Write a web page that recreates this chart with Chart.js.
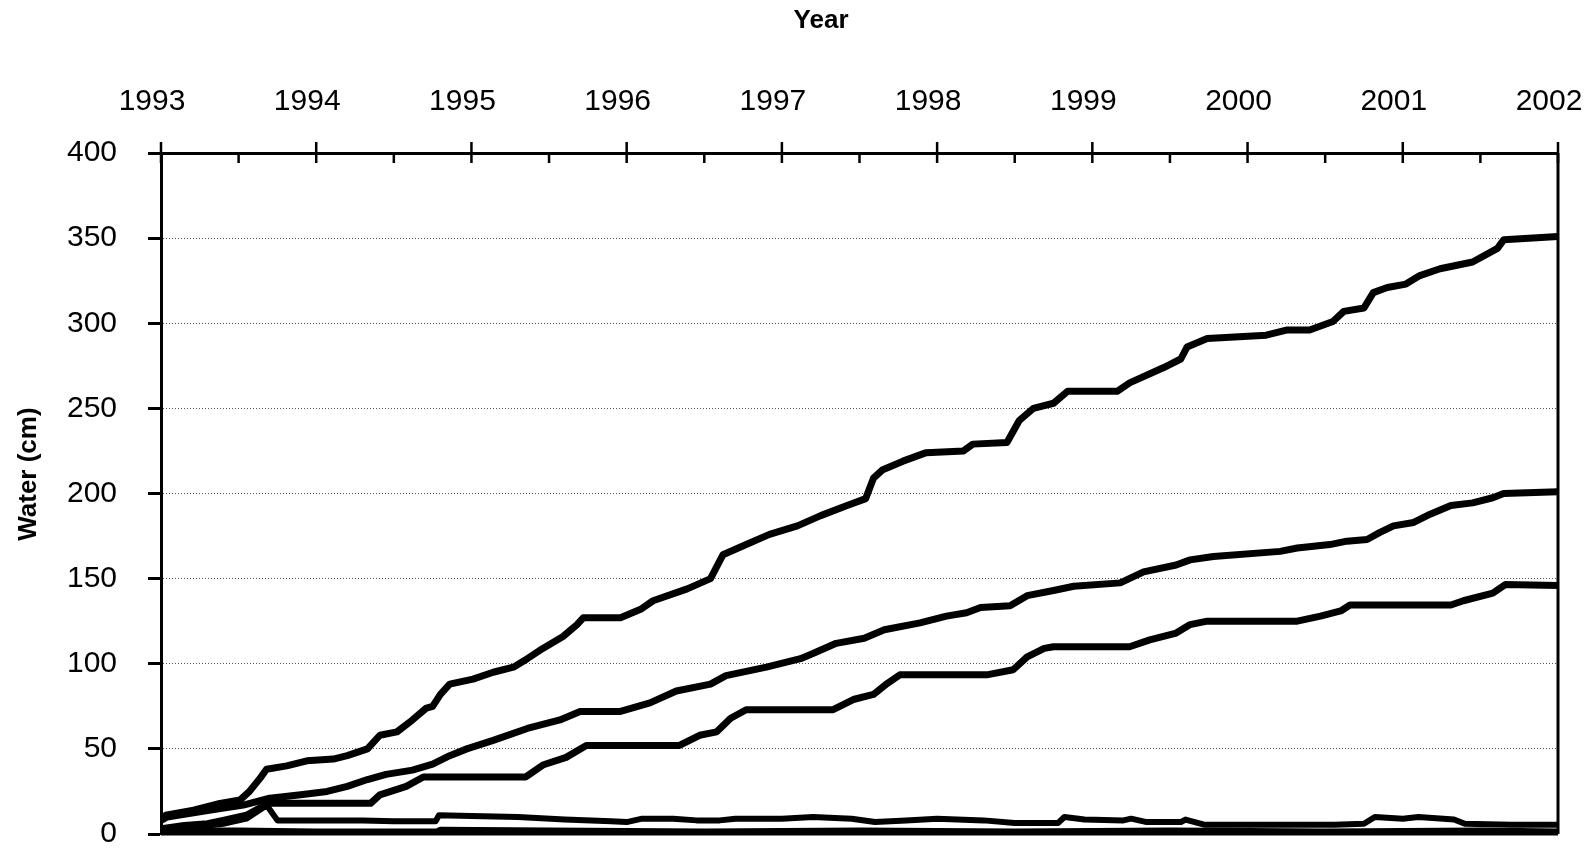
<!DOCTYPE html>
<html>
<head>
<meta charset="utf-8">
<script src="https://cdn.jsdelivr.net/npm/chart.js@4/dist/chart.umd.min.js"></script>
<style>
  html, body { margin: 0; padding: 0; background: #fff; }
  #wrap { width: 1587px; height: 851px; }
</style>
</head>
<body>
<div id="wrap"><canvas id="chart" width="1587" height="851"></canvas></div>
<script>
// Cumulative water (cm) over time, each point is [year, cm]
const cumulativeTop = [
  [1993.0, 8], [1993.03, 11], [1993.21, 14], [1993.38, 18], [1993.51, 20], [1993.57, 25],
  [1993.64, 33], [1993.68, 38], [1993.81, 40], [1993.94, 43], [1994.11, 44], [1994.20, 46],
  [1994.33, 50], [1994.41, 58], [1994.52, 60], [1994.62, 67], [1994.71, 74], [1994.75, 75],
  [1994.80, 82], [1994.86, 88], [1995.01, 91], [1995.14, 95], [1995.27, 98], [1995.36, 103],
  [1995.46, 109], [1995.59, 116], [1995.68, 123], [1995.72, 127], [1995.96, 127], [1996.09, 132],
  [1996.17, 137], [1996.39, 144], [1996.54, 150], [1996.62, 164], [1996.77, 170], [1996.92, 176],
  [1997.10, 181], [1997.25, 187], [1997.42, 193], [1997.54, 197], [1997.59, 209], [1997.65, 214],
  [1997.78, 219], [1997.93, 224], [1998.17, 225], [1998.23, 229], [1998.45, 230], [1998.53, 243],
  [1998.62, 250], [1998.75, 253], [1998.84, 260], [1999.16, 260], [1999.24, 265], [1999.46, 274],
  [1999.57, 279], [1999.61, 286], [1999.74, 291], [2000.12, 293], [2000.25, 296], [2000.40, 296],
  [2000.55, 301], [2000.62, 307], [2000.75, 309], [2000.81, 318], [2000.90, 321], [2001.02, 323],
  [2001.11, 328], [2001.24, 332], [2001.45, 336], [2001.61, 344], [2001.65, 349], [2002.0, 351]
];
const cumulativeMiddle = [
  [1993.0, 8], [1993.04, 10], [1993.32, 14], [1993.53, 17], [1993.70, 21], [1993.90, 23],
  [1994.07, 25], [1994.20, 28], [1994.33, 32], [1994.45, 35], [1994.62, 37.5], [1994.75, 41],
  [1994.86, 46], [1994.97, 50], [1995.14, 55], [1995.36, 62], [1995.57, 67], [1995.70, 72],
  [1995.96, 72], [1996.15, 77], [1996.32, 84], [1996.54, 88], [1996.64, 93], [1996.90, 98],
  [1997.12, 103], [1997.20, 106], [1997.35, 112], [1997.53, 115], [1997.66, 120], [1997.89, 124],
  [1998.06, 128], [1998.19, 130], [1998.28, 133], [1998.47, 134], [1998.58, 140], [1998.75, 143],
  [1998.88, 145.5], [1999.18, 147.5], [1999.33, 154], [1999.54, 158], [1999.63, 161], [1999.78, 163],
  [2000.21, 166], [2000.32, 168], [2000.53, 170], [2000.64, 172], [2000.77, 173], [2000.85, 177],
  [2000.94, 181], [2001.07, 183], [2001.18, 188], [2001.31, 193], [2001.45, 194.5], [2001.58, 197.5],
  [2001.65, 200], [2002.0, 201]
];
const cumulativeLower = [
  [1993.0, 3], [1993.15, 5], [1993.3, 6], [1993.4, 8], [1993.55, 11], [1993.65, 16], [1993.70, 18],
  [1994.35, 18], [1994.41, 23], [1994.58, 28], [1994.69, 33.5], [1995.35, 33.5], [1995.46, 40.5],
  [1995.61, 45], [1995.74, 52], [1996.34, 52], [1996.47, 58], [1996.58, 60], [1996.67, 68],
  [1996.77, 73], [1997.33, 73], [1997.46, 79], [1997.59, 82], [1997.68, 88.5], [1997.76, 93.5],
  [1998.32, 93.5], [1998.49, 96.5], [1998.58, 104], [1998.69, 109], [1998.75, 110], [1999.24, 110],
  [1999.37, 114], [1999.54, 118], [1999.63, 123], [1999.74, 125], [2000.32, 125], [2000.47, 128],
  [2000.60, 131], [2000.66, 134.5], [2001.31, 134.5], [2001.39, 137], [2001.58, 141.5],
  [2001.66, 146.5], [2002.0, 146]
];
// Stored water levels that stay near zero
const storedUpper = [
  [1993.0, 2], [1993.2, 4], [1993.4, 6], [1993.55, 9], [1993.65, 15], [1993.68, 17], [1993.75, 8],
  [1994.0, 8], [1994.3, 8], [1994.5, 7.5], [1994.77, 7.5], [1994.79, 11], [1995.0, 10.5],
  [1995.3, 10], [1995.6, 8.5], [1995.9, 7.5], [1996.0, 7], [1996.1, 9], [1996.3, 9], [1996.45, 8],
  [1996.6, 8], [1996.7, 9], [1997.0, 9], [1997.2, 10], [1997.45, 9], [1997.6, 7], [1997.8, 8],
  [1998.0, 9], [1998.3, 8], [1998.5, 6.5], [1998.78, 6.5], [1998.82, 10], [1998.95, 8.5],
  [1999.2, 8], [1999.25, 9], [1999.35, 7], [1999.57, 7], [1999.6, 8.5], [1999.72, 5.5],
  [2000.0, 5.5], [2000.3, 5.5], [2000.56, 5.5], [2000.75, 6], [2000.82, 10], [2001.0, 9],
  [2001.1, 10], [2001.33, 8.5], [2001.4, 6], [2001.7, 5.5], [2002.0, 5.5]
];
const storedLower = [
  [1993.0, 0], [1993.1, 2], [1993.5, 2], [1994.0, 1.5], [1994.78, 1.5], [1994.8, 2.5],
  [1995.5, 2], [1996.5, 1.5], [1997.5, 2], [1998.5, 1.5], [1999.5, 2], [2000.5, 1.5],
  [2001.5, 2], [2002.0, 1.5]
];
const storedBase = [[1993.0, 0], [2002.0, 0]];

// Axis ranges and labels
const yearMin = 1993, yearMax = 2002;
const waterMin = 0, waterMax = 400, waterStep = 50;
const xTitle = 'Year';
const yTitle = 'Water (cm)';

const FONT = "'Liberation Sans', Arial, Helvetica, sans-serif";
Chart.defaults.font.family = FONT;
Chart.defaults.color = '#000';

function toPoints(arr) { return arr.map(p => ({ x: p[0], y: p[1] })); }
function lineSet(arr, width) {
  return {
    data: toPoints(arr), borderColor: '#000', backgroundColor: '#000',
    borderWidth: width, pointRadius: 0, tension: 0, fill: false,
    borderJoinStyle: 'round', borderCapStyle: 'butt'
  };
}

// Frame, year tick marks and axis titles
const framePlugin = {
  id: 'frame',
  afterDraw(chart) {
    const { ctx, chartArea: a, scales: { x } } = chart;
    ctx.save();
    ctx.strokeStyle = '#000';
    ctx.lineWidth = 3;
    ctx.beginPath();
    ctx.moveTo(a.right, a.top); ctx.lineTo(a.right, a.bottom);
    ctx.moveTo(a.left, a.bottom); ctx.lineTo(a.right, a.bottom);
    ctx.stroke();
    ctx.lineWidth = 2.5;
    ctx.beginPath();
    for (let yr = yearMin; yr <= yearMax; yr++) {
      const px = x.getPixelForValue(yr);
      ctx.moveTo(px, a.top - 11); ctx.lineTo(px, a.top + 10);
      if (yr < yearMax) {
        const hx = x.getPixelForValue(yr + 0.5);
        ctx.moveTo(hx, a.top); ctx.lineTo(hx, a.top + 10);
      }
    }
    ctx.stroke();

    ctx.fillStyle = '#000';
    ctx.textAlign = 'center';
    ctx.textBaseline = 'middle';
    ctx.font = 'bold 26px ' + FONT;
    ctx.fillText(xTitle, a.left + (a.right - a.left) * 0.4725, 21);
    ctx.translate(29, a.top + (a.bottom - a.top) * 0.4715);
    ctx.rotate(-Math.PI / 2);
    ctx.font = 'bold 26px ' + FONT;
    ctx.fillText(yTitle, 0, 0);
    ctx.restore();
  }
};

new Chart(document.getElementById('chart'), {
  type: 'line',
  data: {
    datasets: [
      lineSet(storedBase, 6),
      lineSet(storedLower, 6),
      lineSet(storedUpper, 6),
      lineSet(cumulativeLower, 7),
      lineSet(cumulativeMiddle, 7),
      lineSet(cumulativeTop, 7)
    ]
  },
  options: {
    responsive: false,
    animation: false,
    events: [],
    layout: { padding: { left: 0, right: 29, top: 0, bottom: 17 } },
    plugins: { legend: { display: false }, tooltip: { enabled: false }, title: { display: false } },
    scales: {
      x: {
        type: 'linear', position: 'top', min: yearMin, max: yearMax,
        grid: { display: false },
        border: { display: true, color: '#000', width: 3 },
        ticks: {
          stepSize: 1, padding: 25, labelOffset: -9,
          font: { size: 30 }, color: '#000',
          maxRotation: 0, autoSkip: false,
          callback: v => String(Math.round(v))
        },
        afterFit(s) { s.height = 153; s.paddingLeft = 0; s.paddingRight = 0; }
      },
      y: {
        type: 'linear', position: 'left', min: waterMin, max: waterMax,
        grid: {
          display: true, drawTicks: true, tickLength: 13, tickWidth: 3, tickColor: '#000',
          lineWidth: 1,
          color: c => (c.tick && (c.tick.value === waterMin || c.tick.value === waterMax)) ? 'rgba(0,0,0,0)' : '#555'
        },
        border: { display: true, color: '#000', width: 3, dash: [1, 2] },
        ticks: { stepSize: waterStep, padding: 31, font: { size: 30 }, color: '#000' },
        afterFit(s) { s.width = 161; s.paddingTop = 0; s.paddingBottom = 0; }
      }
    }
  },
  plugins: [framePlugin]
});
</script>
</body>
</html>
